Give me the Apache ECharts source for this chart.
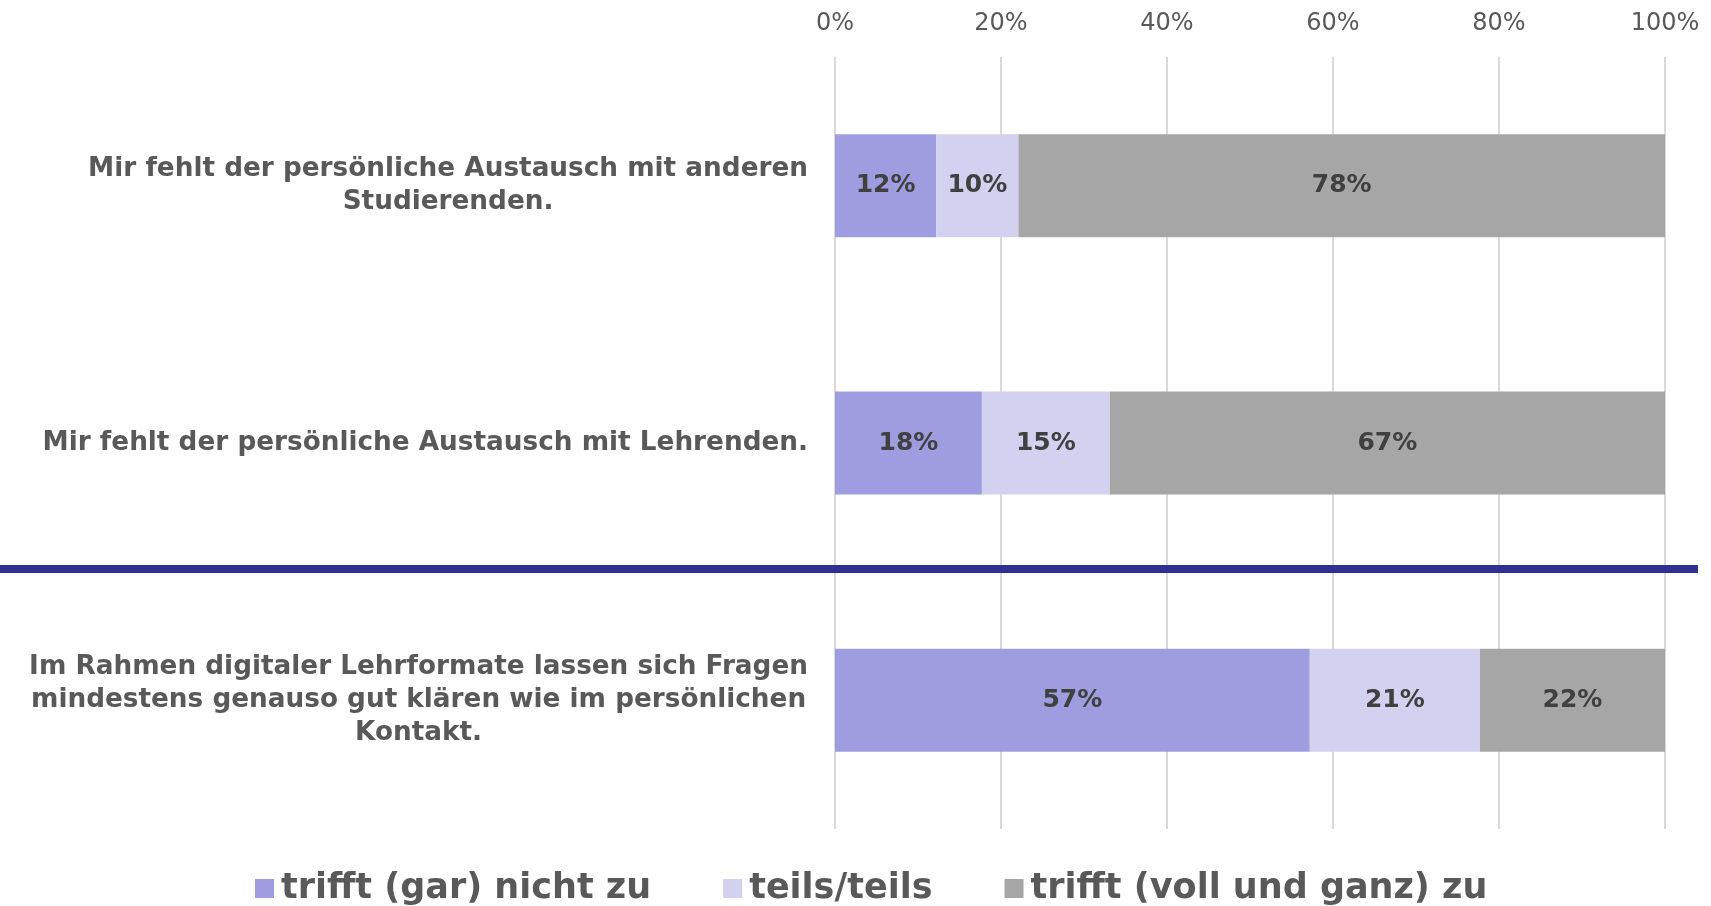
<!DOCTYPE html>
<html>
<head>
<meta charset="utf-8">
<script src="https://cdn.jsdelivr.net/npm/echarts@6/dist/echarts.min.js"></script>
<style>
  html, body { margin: 0; padding: 0; background: #fff; }
  #chart { width: 1711px; height: 906px; }
</style>
</head>
<body>
<div id="chart"></div>
<script>
// Aussagen (von oben nach unten)
const statements = [
  'Mir fehlt der persönliche Austausch mit anderen\nStudierenden.',
  'Mir fehlt der persönliche Austausch mit Lehrenden.',
  'Im Rahmen digitaler Lehrformate lassen sich Fragen\nmindestens genauso gut klären wie im persönlichen\nKontakt.'
]
const seriesNames = ['trifft (gar) nicht zu', 'teils/teils', 'trifft (voll und ganz) zu']
// Anteile in %
const notTrue = [12.2, 17.7, 57.2]
const partly = [9.9, 15.4, 20.5]
const fullyTrue = [77.9, 66.9, 22.3]
const xTicks = [0, 20, 40, 60, 80, 100]

const colors = ['#9e9ddf', '#d2d2f0', '#a6a6a6']
const font = 'DejaVu Sans, Verdana, sans-serif'

var chart = echarts.init(document.getElementById('chart'))

function makeSeries (name, data, color) {
  return {
    name: name,
    type: 'bar',
    stack: 'total',
    data: data,
    barWidth: '40%',
    itemStyle: { color: color },
    label: {
      show: true,
      position: 'inside',
      formatter: p => Math.round(p.value) + '%',
      fontFamily: font,
      fontWeight: 'bold',
      fontSize: 25,
      color: '#404040'
    }
  }
}

var option = {
  animation: false,
  color: colors,
  grid: { left: 835, right: 46, top: 57, bottom: 77 },
  xAxis: {
    type: 'value',
    position: 'top',
    min: xTicks[0],
    max: xTicks[xTicks.length - 1],
    interval: 20,
    axisLine: { show: false },
    axisTick: { show: false },
    splitLine: { lineStyle: { color: '#d9d9d9', width: 2 } },
    axisLabel: {
      formatter: '{value}%',
      margin: 21,
      fontFamily: font,
      fontSize: 24,
      color: '#595959'
    }
  },
  yAxis: {
    type: 'category',
    inverse: true,
    data: statements,
    axisLine: { show: false },
    axisTick: { show: false },
    axisLabel: {
      margin: 27,
      align: 'right',
      formatter: v => v.split('\n').map(l => '{c|' + l + '}').join('\n'),
      rich: {
        c: {
          align: 'center',
          fontFamily: font,
          fontWeight: 'bold',
          fontSize: 26.3,
          lineHeight: 33,
          color: '#595959'
        }
      }
    }
  },
  legend: {
    top: 866,
    left: 250,
    itemWidth: 19,
    itemHeight: 19,
    itemGap: 72,
    icon: 'rect',
    textStyle: {
      fontFamily: font,
      fontWeight: 'bold',
      fontSize: 35,
      color: '#595959',
      padding: [0, 0, 0, 2]
    },
    data: seriesNames
  },
  graphic: [
    {
      type: 'rect',
      z: 100,
      shape: { x: 0, y: 565, width: 1698, height: 8 },
      style: { fill: '#2e3192' }
    }
  ],
  series: [
    makeSeries(seriesNames[0], notTrue, colors[0]),
    makeSeries(seriesNames[1], partly, colors[1]),
    makeSeries(seriesNames[2], fullyTrue, colors[2])
  ]
}

option && chart.setOption(option)
</script>
</body>
</html>
